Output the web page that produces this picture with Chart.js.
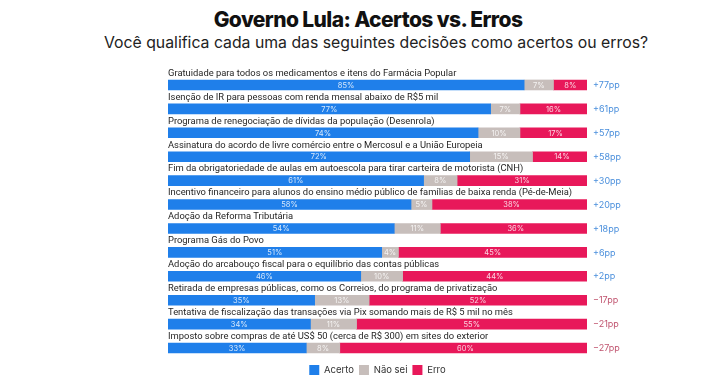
<!DOCTYPE html>
<html lang="pt-BR">
<head>
    <meta charset="UTF-8">
    <title>Governo Lula: Acertos vs. Erros</title>
    <script src="https://cdn.jsdelivr.net/npm/chart.js"></script>
    <style>
        html, body {
            margin: 0;
            padding: 0;
            background: #ffffff;
            font-family: Inter, "Noto Sans", sans-serif;
        }
        .page {
            position: relative;
            width: 722px;
            height: 378px;
            overflow: hidden;
        }
        .title {
            position: absolute;
            top: 7px;
            left: 0;
            width: 736px;
            text-align: center;
            font-size: 21px;
            font-weight: 800;
            letter-spacing: -0.6px;
            color: #111;
        }
        .subtitle {
            position: absolute;
            top: 33px;
            left: 0;
            width: 752px;
            text-align: center;
            font-size: 15.8px;
            color: #222;
        }
        .chart-box {
            position: absolute;
            left: 0;
            top: 0;
            width: 722px;
            height: 385px;
        }
    </style>
</head>
<body>
<div class="page">
    <div class="title">Governo Lula: Acertos vs. Erros</div>
    <div class="subtitle">Você qualifica cada uma das seguintes decisões como acertos ou erros?</div>
    <div class="chart-box"><canvas id="chart"></canvas></div>
</div>

<script>
    const categories = [
        'Gratuidade para todos os medicamentos e itens do Farmácia Popular',
        'Isenção de IR para pessoas com renda mensal abaixo de R$5 mil',
        'Programa de renegociação de dívidas da população (Desenrola)',
        'Assinatura do acordo de livre comércio entre o Mercosul e a União Europeia',
        'Fim da obrigatoriedade de aulas em autoescola para tirar carteira de motorista (CNH)',
        'Incentivo financeiro para alunos do ensino médio público de famílias de baixa renda (Pé-de-Meia)',
        'Adoção da Reforma Tributária',
        'Programa Gás do Povo',
        'Adoção do arcabouço fiscal para o equilíbrio das contas públicas',
        'Retirada de empresas públicas, como os Correios, do programa de privatização',
        'Tentativa de fiscalização das transações via Pix somando mais de R$ 5 mil no mês',
        'Imposto sobre compras de até US$ 50 (cerca de R$ 300) em sites do exterior'
    ];
    const acerto = [85, 77, 74, 72, 61, 58, 54, 51, 46, 35, 34, 33];
    const naoSei = [7, 7, 10, 15, 8, 5, 11, 4, 10, 13, 11, 8];
    const erro = [8, 16, 17, 14, 31, 38, 36, 45, 44, 52, 55, 60];
    const saldo = ['+77pp', '+61pp', '+57pp', '+58pp', '+30pp', '+20pp', '+18pp', '+6pp', '+2pp', '−17pp', '−21pp', '−27pp'];

    const FONT = 'Inter, "Noto Sans", sans-serif';

    // category names above the bars, values inside, net balance on the right
    const barText = {
        id: 'barText',
        afterDatasetsDraw(chart) {
            const c = chart.ctx;
            const area = chart.chartArea;
            c.save();
            c.textBaseline = 'middle';

            const first = chart.getDatasetMeta(0).data;
            first.forEach((bar, i) => {
                c.fillStyle = '#1f1f1f';
                c.font = '9.4px Roboto, ' + FONT;
                c.textAlign = 'left';
                c.fillText(categories[i], area.left, bar.y - 11.5);

                c.font = '9px ' + FONT;
                c.fillStyle = saldo[i].startsWith('+') ? '#4a8fdc' : '#c0546f';
                c.fillText(saldo[i], area.right + 6, bar.y + 0.5);
            });

            chart.data.datasets.forEach((ds, d) => {
                chart.getDatasetMeta(d).data.forEach((bar, i) => {
                    const mid = (bar.base + bar.x) / 2;
                    c.font = '7.5px ' + FONT;
                    c.textAlign = 'center';
                    c.fillStyle = 'rgba(255,255,255,0.82)';
                    c.fillText(ds.data[i] + '%', Math.min(mid, area.right - 12), bar.y + 0.5);
                });
            });
            c.restore();
        }
    };

    new Chart(document.getElementById('chart'), {
        type: 'bar',
        data: {
            labels: categories,
            datasets: [
                { label: 'Acerto', data: acerto, backgroundColor: '#1f7fea' },
                { label: 'Não sei', data: naoSei, backgroundColor: '#c7bebb' },
                { label: 'Erro', data: erro, backgroundColor: '#e8185a' }
            ]
        },
        options: {
            indexAxis: 'y',
            responsive: true,
            maintainAspectRatio: false,
            animation: false,
            layout: {
                padding: { left: 168, right: 135, top: 73, bottom: 0 }
            },
            datasets: {
                bar: { barThickness: 10, clip: 0, borderWidth: 0 }
            },
            scales: {
                x: { stacked: true, min: 0, max: 100, display: false },
                y: { stacked: true, display: false }
            },
            plugins: {
                legend: {
                    position: 'bottom',
                    labels: {
                        boxWidth: 10,
                        boxHeight: 10,
                        padding: 5,
                        color: '#333',
                        font: { family: FONT, size: 9.5 }
                    }
                },
                tooltip: { enabled: false }
            }
        },
        plugins: [barText]
    });
</script>
</body>
</html>
